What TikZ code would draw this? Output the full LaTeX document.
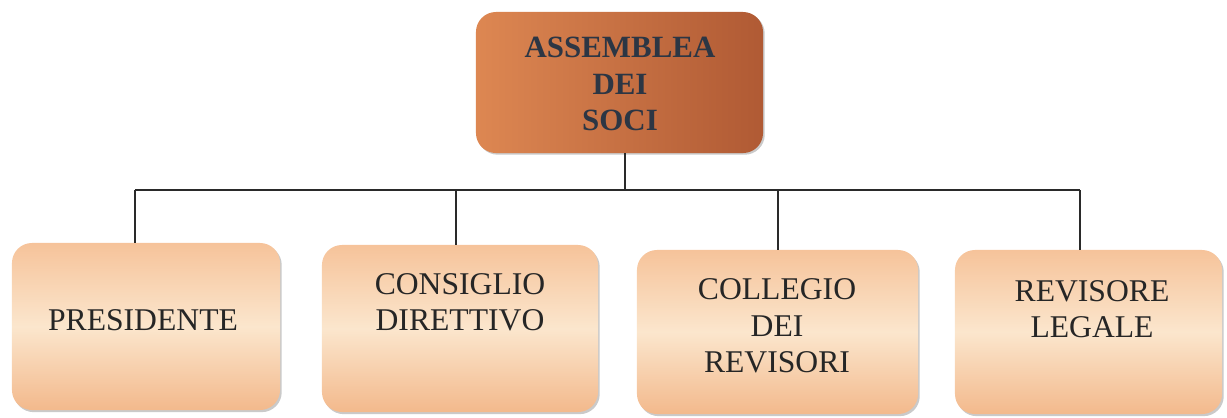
\documentclass[tikz,border=0pt]{standalone}
\usepackage{fontspec}
\setmainfont{Liberation Serif}
\usetikzlibrary{shadows}
\definecolor{toplight}{HTML}{DD8752}
\definecolor{topdark}{HTML}{B05A34}
\definecolor{toptext}{HTML}{2C3644}
\definecolor{peachtop}{HTML}{F6C39A}
\definecolor{peachmid}{HTML}{FBE6CD}
\definecolor{peachbot}{HTML}{F3B98C}
\definecolor{linecol}{HTML}{2A2A2A}
\tikzset{
  topbox/.style={rounded corners=0.5cm, left color=toplight, right color=topdark,
    drop shadow={shadow xshift=1.2pt, shadow yshift=-1.2pt, opacity=0.35, fill=black!60}},
  subbox/.style={rounded corners=0.5cm, top color=peachtop, bottom color=peachbot, middle color=peachmid,
    drop shadow={shadow xshift=1.2pt, shadow yshift=-1.5pt, opacity=0.35, fill=black!60}},
  toplabel/.style={align=center, text=toptext, font=\fontsize{22}{26}\selectfont\bfseries},
  sublabel/.style={align=center, text=black!85, font=\fontsize{22.5}{25.8}\selectfont},
  conn/.style={draw=linecol, line width=1pt}
}
\begin{document}
\begin{tikzpicture}[x=0.025cm, y=-0.025cm]
\useasboundingbox (0,0) rectangle (1227,417);
% boxes
\node[topbox, minimum width=7.175cm, minimum height=3.525cm] (top) at (619.5,82.5) {};
\node[subbox, minimum width=6.7cm, minimum height=4.175cm] (b1) at (146,326.5) {};
\node[subbox, minimum width=6.9cm, minimum height=4.175cm] (b2) at (460,328.5) {};
\node[subbox, minimum width=7.025cm, minimum height=4.1cm] (b3) at (777.5,332) {};
\node[subbox, minimum width=6.675cm, minimum height=4.1cm] (b4) at (1088.5,332) {};
% labels
\node[toplabel] (ttop) at (620,84) {ASSEMBLEA\\DEI\\SOCI};
\node[sublabel] (t1) at (143,320) {PRESIDENTE};
\node[sublabel] (t2) at (460,302) {CONSIGLIO\\DIRETTIVO};
\node[sublabel] (t3) at (777,326) {COLLEGIO\\DEI\\REVISORI};
\node[sublabel] (t4) at (1092,309) {REVISORE\\LEGALE};
% bus coordinates
\coordinate (bus) at (625,190);
\coordinate (c1) at (135,190);
\coordinate (c2) at (456,190);
\coordinate (c3) at (778,190);
\coordinate (c4) at (1080,190);
% connectors
\draw[conn] (top.south -| bus) -- (bus);
\draw[conn] (c1) -- (c4);
\draw[conn] (c1) -- (c1 |- b1.north);
\draw[conn] (c2) -- (c2 |- b2.north);
\draw[conn] (c3) -- (c3 |- b3.north);
\draw[conn] (c4) -- (c4 |- b4.north);
\end{tikzpicture}
\end{document}
